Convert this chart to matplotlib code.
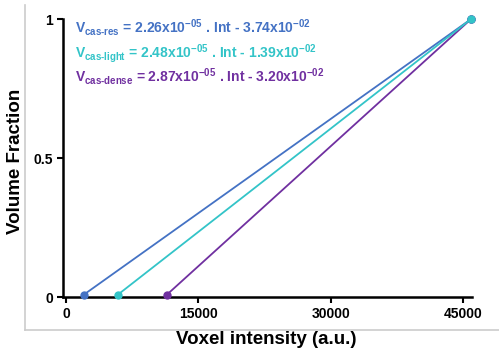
import matplotlib.pyplot as plt
from matplotlib.lines import Line2D

plt.rcParams['font.family'] = ['Liberation Sans', 'DejaVu Sans']
plt.rcParams['font.weight'] = 'bold'
plt.rcParams['mathtext.fontset'] = 'custom'
plt.rcParams['mathtext.rm'] = 'Liberation Sans:bold'
plt.rcParams['mathtext.it'] = 'Liberation Sans:bold'
plt.rcParams['mathtext.bf'] = 'Liberation Sans:bold'

# data
x_res = [2040, 45900]
x_light = [5900, 45900]
x_dense = [11450, 45900]
y_frac = [0.01, 1.0]

x_ticks = [0, 15000, 30000, 45000]
y_ticks = [0, 0.5, 1]
y_ticklabels = ['0', '0.5', '1']

eq_labels = [
    r'$V_{cas\text{-}res}$ = 2.26x10$^{-05}$ . Int - 3.74x10$^{-02}$',
    r'$V_{cas\text{-}light}$ = 2.48x10$^{-05}$ . Int - 1.39x10$^{-02}$',
    r'$V_{cas\text{-}dense}$ = 2.87x10$^{-05}$ . Int - 3.20x10$^{-02}$',
]

c_res = '#4472C4'
c_light = '#33C4C8'
c_dense = '#7030A0'

fig = plt.figure(figsize=(4.99, 3.56), dpi=100)
ax = fig.add_axes([0.1263, 0.1649, 0.8196, 0.7817])

ax.plot(x_res, y_frac, color=c_res, lw=1.3, marker='o', ms=5, zorder=3, clip_on=False)
ax.plot(x_dense, y_frac, color=c_dense, lw=1.3, marker='o', ms=5, zorder=3, clip_on=False)
ax.plot(x_light, y_frac, color=c_light, lw=1.3, marker='o', ms=5, zorder=4, clip_on=False)

ax.set_xlim(-340, 46000)
ax.set_ylim(0, 1)
ax.set_xticks(x_ticks)
ax.set_xticklabels([str(t) for t in x_ticks])
ax.set_yticks(y_ticks)
ax.set_yticklabels(y_ticklabels)
ax.tick_params(axis='both', direction='out', length=4, width=1.5,
               labelsize=10, pad=3)

for s in ['top', 'right']:
    ax.spines[s].set_visible(False)
for s in ['left', 'bottom']:
    ax.spines[s].set_linewidth(1.8)

fig.text(266 / 499, 1 - 340 / 356, 'Voxel intensity (a.u.)', fontsize=13.5,
         fontweight='bold', ha='center', va='center')
fig.text(16 / 499, 1 - 161 / 356, 'Volume Fraction', fontsize=13.5,
         fontweight='bold', ha='center', va='center', rotation=90)

for i, (txt, col) in enumerate(zip(eq_labels, [c_res, c_light, c_dense])):
    fig.text(75 / 499, 1 - (33 + 24.5 * i) / 356, txt, color=col,
             fontsize=10, fontweight='bold', va='baseline', ha='left')

# light grey frame on left and bottom
fig.add_artist(Line2D([25 / 499, 25 / 499], [1 - 5 / 356, 1 - 330 / 356],
                      transform=fig.transFigure, color='#cccccc', lw=1.2))
fig.add_artist(Line2D([25 / 499, 1.0], [1 - 330 / 356, 1 - 330 / 356],
                      transform=fig.transFigure, color='#cccccc', lw=1.2))

fig.savefig('out.png', dpi=100)
